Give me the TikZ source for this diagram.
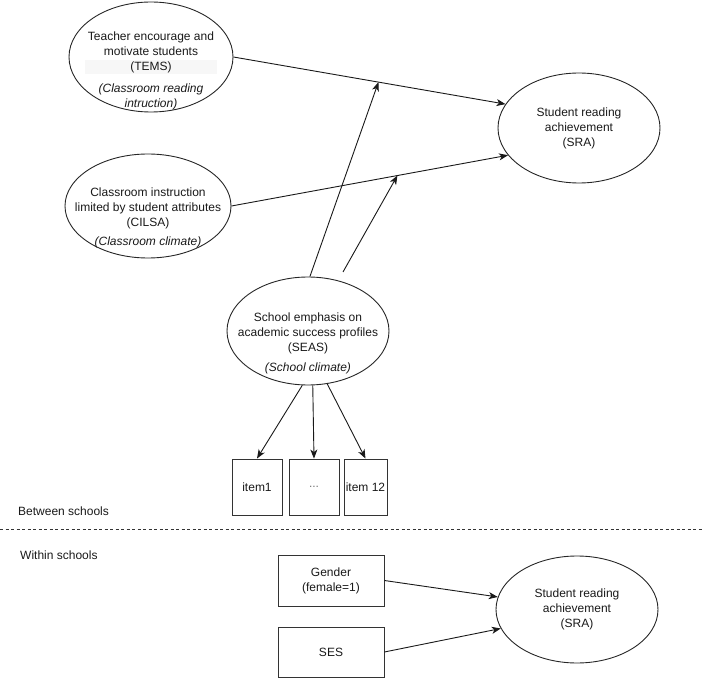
\documentclass[tikz,border=0pt]{standalone}
\usepackage{fontspec}
\setmainfont{Liberation Sans}
\usetikzlibrary{shapes.geometric,arrows.meta}
\begin{document}
\begin{tikzpicture}[x=1pt,y=-1pt,
  txt/.style={font=\fontsize{12}{15}\selectfont, align=center, inner sep=0pt, text=black!90},
  latent/.style={ellipse, draw=black!85, line width=0.9pt, inner sep=0pt,
    font=\fontsize{12}{15}\selectfont, align=center, text=black!90},
  obs/.style={rectangle, draw=black!80, line width=0.9pt, inner sep=0pt,
    font=\fontsize{12}{15}\selectfont, align=center, text=black!90},
  arr/.style={draw=black!90, line width=0.9pt,
    -{Stealth[length=9pt,width=7pt,inset=2.5pt]}},
  sep/.style={draw=black!80, line width=0.8pt, dash pattern=on 3pt off 2.5pt},
]
\useasboundingbox (0,0) rectangle (702,679);

% ---------- between schools ----------
\fill[black!3] (85,60) rectangle (217,74);
\node[latent, minimum width=164pt, minimum height=110pt] (tems) at (151,57) {};
\node[txt] (temsT) at (151,71)
  {Teacher encourage and\\motivate students\\(TEMS)\\[7pt]
   \textit{(Classroom reading}\\\textit{intruction)}};

\node[latent, minimum width=166pt, minimum height=104pt] (cilsa) at (148,206) {};
\node[txt] (cilsaT) at (148,218)
  {Classroom instruction\\limited by student attributes\\(CILSA)\\[4pt]
   \textit{(Classroom climate)}};

\node[latent, minimum width=162pt, minimum height=110pt] (sra) at (579,128)
  {Student reading\\achievement\\(SRA)};

\node[latent, minimum width=162pt, minimum height=108pt] (seas) at (308,331) {};
\node[txt] (seasT) at (308,343)
  {School emphasis on\\academic success profiles\\(SEAS)\\[5pt]
   \textit{(School climate)}};

\node[obs, minimum width=50pt, minimum height=56pt] (item1) at (257,487) {item1};
\node[obs, minimum width=50pt, minimum height=56pt, text=black!55] (itemd) at (314,487) {...};
\node[obs, minimum width=43pt, minimum height=56pt] (item12) at (365.5,487) {item 12};

% paths to the SRA and the points where SEAS meets them
\draw[arr] (tems.east) -- (sra.162) coordinate[pos=0.533] (m1);
\draw[arr] (cilsa.east) -- (sra.201) coordinate[pos=0.60] (m2);
\draw[arr] (seas.88) -- (m1);
\coordinate (s2) at (343,272);
\draw[arr] (s2) -- (m2);

% SEAS indicators
\draw[arr] (seas.264) -- (item1.north);
\draw[arr] (seas.275) -- (itemd.north);
\draw[arr] (seas.290) -- (item12.north);

\node[txt, anchor=west] (between) at (18,511) {Between schools};

% ---------- level separator ----------
\coordinate (sepL) at (0,529);
\coordinate (sepR) at (702,529);
\draw[sep] (sepL) -- (sepR);

% ---------- within schools ----------
\node[txt, anchor=west] (within) at (20,555) {Within schools};

\node[obs, minimum width=106pt, minimum height=51pt] (gender) at (331,580.5) {Gender\\(female=1)};
\node[obs, minimum width=106pt, minimum height=50pt] (ses) at (331,652) {SES};

\node[latent, minimum width=162pt, minimum height=107pt] (sraw) at (577,609.5)
  {Student reading\\achievement\\(SRA)};

\draw[arr] (gender.east) -- (sraw.171);
\draw[arr] (ses.east) -- (sraw.194);
\end{tikzpicture}
\end{document}
